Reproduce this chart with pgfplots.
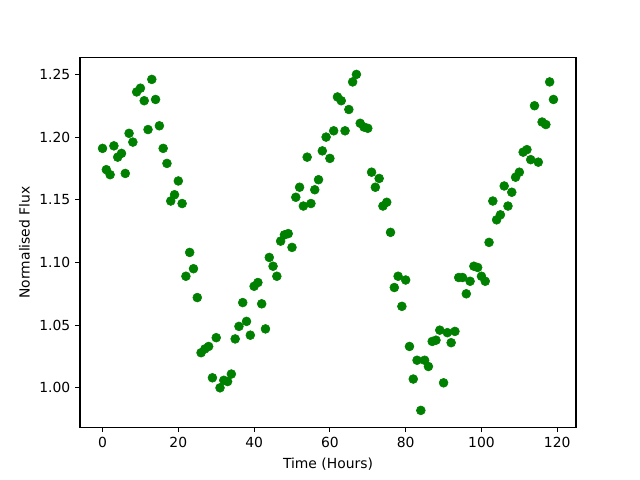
\documentclass[border=0pt]{standalone}
\usepackage{pgfplots}
\pgfplotsset{compat=1.18}
\usepackage{fontspec}
\setmainfont{DejaVu Sans}
\definecolor{mplgreen}{HTML}{008000}
\pgfplotstableread{
x y
0 1.191
1 1.174
2 1.170
3 1.193
4 1.184
5 1.187
6 1.171
7 1.203
8 1.196
9 1.236
10 1.239
11 1.229
12 1.206
13 1.246
14 1.230
15 1.209
16 1.191
17 1.179
18 1.149
19 1.154
20 1.165
21 1.147
22 1.089
23 1.108
24 1.095
25 1.072
26 1.028
27 1.031
28 1.033
29 1.008
30 1.040
31 1.000
32 1.006
33 1.005
34 1.011
35 1.039
36 1.049
37 1.068
38 1.053
39 1.042
40 1.081
41 1.084
42 1.067
43 1.047
44 1.104
45 1.097
46 1.089
47 1.117
48 1.122
49 1.123
50 1.112
51 1.152
52 1.160
53 1.145
54 1.184
55 1.147
56 1.158
57 1.166
58 1.189
59 1.200
60 1.183
61 1.205
62 1.232
63 1.229
64 1.205
65 1.222
66 1.244
67 1.250
68 1.211
69 1.208
70 1.207
71 1.172
72 1.160
73 1.167
74 1.145
75 1.148
76 1.124
77 1.080
78 1.089
79 1.065
80 1.086
81 1.033
82 1.007
83 1.022
84 0.982
85 1.022
86 1.017
87 1.037
88 1.038
89 1.046
90 1.004
91 1.044
92 1.036
93 1.045
94 1.088
95 1.088
96 1.075
97 1.085
98 1.097
99 1.096
100 1.089
101 1.085
102 1.116
103 1.149
104 1.134
105 1.138
106 1.161
107 1.145
108 1.156
109 1.168
110 1.172
111 1.188
112 1.190
113 1.182
114 1.225
115 1.180
116 1.212
117 1.210
118 1.244
119 1.230
}\fluxdata
\begin{document}
\begin{tikzpicture}
\path[use as bounding box] (-57.6pt,-38.02pt) rectangle (403.2pt,307.58pt);
\begin{axis}[
  at={(0pt,0pt)}, anchor=south west,
  scale only axis,
  width=357.12pt, height=266.11pt,
  xmin=-5.95, xmax=124.95,
  ymin=0.9686, ymax=1.2634,
  xtick={0,20,40,60,80,100,120},
  ytick={1.00,1.05,1.10,1.15,1.20,1.25},
  yticklabel style={/pgf/number format/.cd, fixed, fixed zerofill, precision=2},
  /pgf/number format/assume math mode=true,
  tick align=outside,
  tickpos=left,
  major tick length=3.5pt,
  every tick/.style={black, line width=0.8pt},
  axis line style={line width=0.8pt},
  tick label style={font=\fontsize{10}{12}\selectfont},
  label style={font=\fontsize{10}{12}\selectfont},
  xlabel={Time (Hours)},
  ylabel={Normalised Flux},
  xlabel style={yshift=-1pt},
  ylabel style={yshift=0pt},
]
\addplot[only marks, color=mplgreen, mark=*, mark size=3.2pt, mark options={line width=0.4pt}] table[x=x, y=y] {\fluxdata};
\end{axis}
\end{tikzpicture}
\end{document}
